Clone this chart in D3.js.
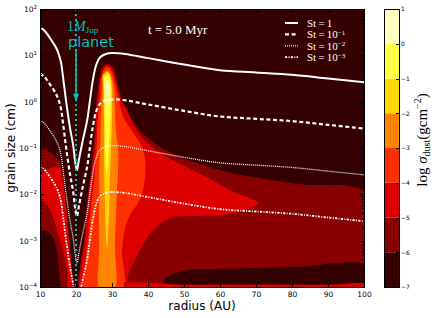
<!doctype html>
<html lang="en">
<head>
  <meta charset="utf-8">
  <title>Dust surface density, t = 5.0 Myr</title>
  <style>
body { margin: 0; background: #fff; }
.axis { font: 7.5px "DejaVu Sans", sans-serif; }
.axis path,
.axis line {
  fill: none;
  stroke: #000;
  shape-rendering: crispEdges;
}
.axis .domain { display: none; }
.frame { fill: none; stroke: #000; stroke-width: 1; shape-rendering: crispEdges; }
.serif { font-family: "Liberation Serif", "DejaVu Serif", serif; }
.st { fill: none; stroke: #fff; }
  </style>
</head>
<body>
  <script src="https://d3js.org/d3.v7.min.js"></script>
  <script>
// contour levels of log sigma_dust (g cm^-2) and the colour of each band
var levels = [-7, -6, -5, -4, -3, -2, -1, 0, 1];
var levelColors = ["#340000", "#880000", "#dc0000", "#ff3000", "#ff8400", "#ffd800", "#ffff43", "#ffffc0"];

// filled contour outlines, [radius (AU), log10 grain size (cm)]
var band7 = [[9, -4.2], [101, -4.2], [101, 2.2], [9, 2.2]];
var band6Left = [[9.6, -0.97], [12.8, -1.09], [15.0, -1.26], [15.8, -1.37], [16.7, -1.91], [17.8, -2.77],
  [18.6, -3.48], [18.9, -4.06], [16.4, -4.06], [14.7, -3.2], [12.8, -2.83], [9.6, -2.7]];
var band6Main = [[21.1, -4.06], [21.1, -3.57], [22.2, -2.99], [23.1, -2.12], [24.2, -1.48], [25.0, -0.83],
  [25.3, -0.33], [25.8, 0.14], [26.4, 0.47], [26.9, 0.66], [27.8, 0.79], [28.6, 0.83], [29.4, 0.81],
  [30.3, 0.75], [31.1, 0.58], [31.9, 0.30], [33.3, -0.07], [35.0, -0.35], [37.2, -0.57], [39.7, -0.76],
  [44.7, -1.04], [51.1, -1.26], [60, -1.48], [69.2, -1.63], [82.2, -1.78], [100.6, -1.98], [100.6, -4.06]];
var band6Hole = [[44.2, -3.91], [45.6, -3.77], [50.8, -3.64], [60, -3.61], [69.2, -3.59], [82.2, -3.56],
  [100.6, -3.53], [100.6, -3.95], [80, -3.95], [60, -3.95], [46, -3.95]];
var band5Left = [[9.6, -1.65], [11.9, -1.48], [14.2, -1.41], [15.6, -1.43], [16.1, -1.58], [16.9, -2.01],
  [17.8, -2.78], [18.6, -3.49], [18.85, -4.06], [17.8, -4.06], [17.5, -3.63], [16.1, -3.14], [12.8, -2.34], [9.6, -1.97]];
var band5Main = [[21.4, -4.06], [21.4, -3.57], [22.5, -2.99], [23.3, -2.12], [24.4, -1.48], [25.3, -0.83],
  [25.6, -0.33], [26.1, 0.14], [26.7, 0.47], [27.2, 0.64], [27.8, 0.75], [28.6, 0.79], [29.4, 0.77],
  [30.3, 0.68], [30.8, 0.53], [31.4, 0.36], [32.5, 0.04], [34.2, -0.18], [36.4, -0.55], [39.7, -0.89],
  [44.7, -1.17], [50.8, -1.41], [57.2, -1.67], [62.8, -1.91], [68.3, -2.08], [70.6, -2.19], [68.3, -2.30],
  [62.8, -2.42], [54.4, -2.47], [46.1, -2.51], [41.4, -2.77], [37.8, -3.20], [35.0, -3.63], [32.8, -4.06]];
var band5Edge = [[32, -3.95], [50, -3.95], [70, -3.95], [90, -3.95], [100.6, -3.95], [100.6, -4.1], [70, -4.1], [32, -4.1]];
var band4 = [[22.5, -4.06], [22.5, -3.57], [23.3, -2.99], [24.4, -2.12], [25.3, -1.48], [25.8, -0.83],
  [26.1, -0.33], [26.7, 0.14], [26.9, 0.47], [27.5, 0.64], [28.1, 0.73], [28.6, 0.75], [29.2, 0.73],
  [29.7, 0.68], [30.3, 0.58], [30.8, 0.40], [31.9, 0.04], [33.1, -0.33], [35.8, -0.66], [38.1, -0.94],
  [39.2, -1.26], [39.2, -1.58], [38.6, -1.91], [37.2, -2.19], [35.3, -2.40], [33.6, -2.73], [32.8, -3.20], [32.8, -4.06]];
var band3 = [[26.7, -4.06], [26.4, -3.2], [26.4, -2.12], [26.4, -1.48], [26.7, -1.04], [26.9, -0.33],
  [27.2, 0.14], [27.5, 0.47], [27.8, 0.60], [28.3, 0.66], [28.9, 0.66], [29.4, 0.62], [30.0, 0.49],
  [30.6, 0.25], [30.8, -0.18], [31.1, -0.61], [31.7, -1.04], [31.7, -1.48], [31.4, -1.91], [31.1, -2.45],
  [30.8, -3.09], [30.6, -4.06]];
var band2 = [[27.5, 0.58], [27.6, 0.25], [27.8, -0.40], [27.8, -1.04], [27.9, -1.69], [28.1, -2.34],
  [28.3, -2.88], [28.6, -3.20], [28.9, -2.88], [29.2, -2.34], [29.4, -1.69], [29.7, -1.04], [30.0, -0.40],
  [30.0, 0.25], [29.7, 0.51], [29.2, 0.62], [28.6, 0.64], [28.1, 0.62]];
var band1 = [[27.8, 0.51], [27.9, 0.04], [28.1, -0.61], [28.2, -1.15], [28.6, -1.58], [29.0, -1.15],
  [29.4, -0.61], [29.7, 0.04], [29.6, 0.42], [29.2, 0.55], [28.6, 0.58], [28.1, 0.55]];
var band0 = [[28.3, 0.42], [28.45, 0.04], [28.75, -0.29], [29.0, 0.04], [29.15, 0.36], [28.75, 0.47]];

// grain size (log10 cm) at which the Stokes number equals 1, 0.1, 0.01, 0.001
var stRadius = [10, 11.4, 12.8, 14.2, 15.0, 15.8, 16.4, 17.2, 18.3, 19.2, 19.7, 20.25, 20.8, 21.9, 23.1,
  23.9, 24.7, 25.6, 26.7, 28.3, 30.0, 33.6, 40, 50, 60, 70, 80, 90, 100];
var st1 = [1.61, 1.52, 1.37, 1.20, 1.07, 0.86, 0.53, 0.04, -0.55, -0.94, -1.26, -1.48, -1.26, -0.83, -0.40,
  0.04, 0.47, 0.79, 0.96, 1.03, 1.05, 1.03, 0.94, 0.80, 0.68, 0.63, 0.58, 0.50, 0.42];
var st1e1 = [0.61, 0.52, 0.37, 0.20, 0.07, -0.14, -0.47, -0.96, -1.55, -1.94, -2.26, -2.48, -2.26, -1.83, -1.40,
  -0.96, -0.53, -0.21, -0.04, 0.03, 0.05, 0.03, -0.06, -0.20, -0.32, -0.37, -0.42, -0.50, -0.58];
var st1e2 = [-0.39, -0.48, -0.63, -0.80, -0.93, -1.14, -1.47, -1.96, -2.55, -2.94, -3.26, -3.48, -3.26, -2.83, -2.40,
  -1.96, -1.53, -1.21, -1.04, -0.97, -0.95, -0.97, -1.06, -1.20, -1.32, -1.37, -1.42, -1.50, -1.58];
var st1e3 = [-1.39, -1.48, -1.63, -1.80, -1.93, -2.14, -2.47, -2.96, -3.55, -3.94, -4.26, -4.48, -4.26, -3.83, -3.40,
  -2.96, -2.53, -2.21, -2.04, -1.97, -1.95, -1.97, -2.06, -2.20, -2.32, -2.37, -2.42, -2.50, -2.58];

var planetRadius = 20;
var xTicks = [10, 20, 30, 40, 50, 60, 70, 80, 90, 100];
var yTicks = [1e-4, 1e-3, 1e-2, 1e-1, 1, 10, 100];

var svg = d3.select("body").append("svg")
    .attr("width", 436)
    .attr("height", 318);

// plot box 40..364 x 9..287
var x = d3.scaleLinear().domain([10, 100]).range([40, 364]);
var y = d3.scaleLog().domain([1e-4, 1e2]).range([287, 9]);
function yl(v) { return y(Math.pow(10, v)); }

svg.append("defs").append("clipPath").attr("id", "plot-clip")
  .append("rect")
    .attr("x", x(10)).attr("y", y(100))
    .attr("width", x(100) - x(10)).attr("height", y(1e-4) - y(100));

var plot = svg.append("g").attr("clip-path", "url(#plot-clip)");

var color = d3.scaleOrdinal().domain(levels.slice(0, -1)).range(levelColors);

var outline = d3.line()
    .x(function(d) { return x(d[0]); })
    .y(function(d) { return yl(d[1]); })
    .curve(d3.curveCatmullRomClosed.alpha(0.5));

var bands = [
  {level: -7, rings: [band7]},
  {level: -6, rings: [band6Left, band6Main, band6Hole]},
  {level: -5, rings: [band5Left, band5Main, band5Edge]},
  {level: -4, rings: [band4]},
  {level: -3, rings: [band3]},
  {level: -2, rings: [band2]},
  {level: -1, rings: [band1]},
  {level: 0, rings: [band0]}
];

plot.selectAll(".band")
    .data(bands)
  .enter().append("path")
    .attr("class", "band")
    .attr("fill-rule", "evenodd")
    .attr("fill", function(d) { return color(d.level); })
    .attr("d", function(d) { return d.rings.map(outline).join(""); });

// Stokes number curves
var stLine = d3.line()
    .x(function(d) { return x(d[0]); })
    .y(function(d) { return yl(d[1]); })
    .curve(d3.curveCatmullRom.alpha(0.5));

var stSeries = [
  {label: "1", values: st1, width: 2, dash: null, stroke: "#fff"},
  {label: "-1", values: st1e1, width: 2.2, dash: "4,2.6", stroke: "#fff"},
  {label: "-2", values: st1e2, width: 1.3, dash: "1,1", stroke: "#e6e6e6"},
  {label: "-3", values: st1e3, width: 1.8, dash: "2.2,1.3,1,1.3", stroke: "#fff"}
];

plot.selectAll(".st")
    .data(stSeries)
  .enter().append("path")
    .attr("class", "st")
    .attr("stroke", function(d) { return d.stroke; })
    .attr("stroke-width", function(d) { return d.width; })
    .attr("stroke-dasharray", function(d) { return d.dash; })
    .attr("d", function(d) { return stLine(stRadius.map(function(r, i) { return [r, d.values[i]]; })); });

// planet position
var cyan = "#00bfbf";
var px = x(planetRadius);
plot.append("line")
    .attr("x1", px).attr("x2", px)
    .attr("y1", y(100)).attr("y2", y(1e-4))
    .attr("stroke", cyan)
    .attr("stroke-width", 2)
    .attr("stroke-dasharray", "2,3");

var arrowTop = yl(1.1), arrowTip = yl(0.0);
svg.append("line")
    .attr("x1", px).attr("x2", px)
    .attr("y1", arrowTop).attr("y2", arrowTip - 6)
    .attr("stroke", cyan)
    .attr("stroke-width", 1.6);
svg.append("path")
    .attr("d", "M" + px + "," + arrowTip + "L" + (px - 3) + "," + (arrowTip - 8) + "L" + (px + 3) + "," + (arrowTip - 8) + "Z")
    .attr("fill", cyan);

var mj = svg.append("text")
    .attr("class", "serif")
    .attr("x", px - 9).attr("y", 30.5)
    .attr("fill", cyan)
    .attr("font-size", "14px");
mj.append("tspan").text("1");
mj.append("tspan").attr("font-style", "italic").text("M");
mj.append("tspan").attr("dy", 2).attr("font-size", "9px").text("Jup");

svg.append("text")
    .attr("x", px - 8).attr("y", 46.5)
    .attr("fill", cyan)
    .style("font", "14.5px 'DejaVu Sans', sans-serif")
    .text("planet");

svg.append("text")
    .attr("class", "serif")
    .attr("x", x(40)).attr("y", 34)
    .attr("fill", "#fff")
    .attr("font-size", "13px")
    .text("t = 5.0 Myr");

// legend
var legend = svg.append("g").attr("transform", "translate(285,23)");
var row = legend.selectAll(".row")
    .data(stSeries)
  .enter().append("g")
    .attr("class", "row")
    .attr("transform", function(d, i) { return "translate(0," + (i * 11.4) + ")"; });
row.append("line")
    .attr("x1", 0).attr("x2", 13)
    .attr("stroke", function(d) { return d.stroke; })
    .attr("stroke-width", function(d) { return d.width; })
    .attr("stroke-dasharray", function(d) { return d.dash; });
row.append("text")
    .attr("class", "serif")
    .attr("x", 22).attr("y", 4)
    .attr("fill", "#fff")
    .attr("font-size", "11px")
    .each(function(d) {
      var t = d3.select(this);
      if (d.label === "1") {
        t.text("St\u2009=\u20091");
      } else {
        t.append("tspan").text("St\u2009=\u200910");
        t.append("tspan").attr("dy", -3.5).attr("font-size", "7px").text("\u2212" + d.label.slice(1));
      }
    });

// axes, ticks pointing inward on all four sides
var minor = y.ticks().filter(function(v) { return yTicks.indexOf(v) < 0; });

svg.append("g")
    .attr("class", "x axis")
    .attr("transform", "translate(0," + y(1e-4) + ")")
    .call(d3.axisBottom(x).tickValues(xTicks).tickSize(-4).tickPadding(4.5));
svg.append("g")
    .attr("class", "x axis")
    .attr("transform", "translate(0," + y(100) + ")")
    .call(d3.axisTop(x).tickValues(xTicks).tickSize(-4).tickFormat(""));

var yAxis = svg.append("g")
    .attr("class", "y axis")
    .attr("transform", "translate(" + x(10) + ",0)")
    .call(d3.axisLeft(y).tickValues(yTicks).tickSize(-4).tickPadding(3));
yAxis.selectAll(".tick text").text(null).each(function(d) {
  var t = d3.select(this);
  t.append("tspan").text("10");
  t.append("tspan").attr("dy", -3).attr("font-size", "5.5px")
    .text(String(Math.round(Math.log10(d))).replace("-", "\u2212"));
});
svg.append("g")
    .attr("class", "y axis")
    .attr("transform", "translate(" + x(10) + ",0)")
    .call(d3.axisLeft(y).tickValues(minor).tickSize(-2).tickFormat(""));
svg.append("g")
    .attr("class", "y axis")
    .attr("transform", "translate(" + x(100) + ",0)")
    .call(d3.axisRight(y).tickValues(yTicks).tickSize(-4).tickFormat(""));
svg.append("g")
    .attr("class", "y axis")
    .attr("transform", "translate(" + x(100) + ",0)")
    .call(d3.axisRight(y).tickValues(minor).tickSize(-2).tickFormat(""));

svg.append("rect")
    .attr("class", "frame")
    .attr("x", x(10)).attr("y", y(100))
    .attr("width", x(100) - x(10)).attr("height", y(1e-4) - y(100));

svg.append("text")
    .attr("x", (x(10) + x(100)) / 2).attr("y", 310)
    .attr("text-anchor", "middle")
    .style("font", "12px 'DejaVu Sans', sans-serif")
    .text("radius (AU)");
svg.append("text")
    .attr("transform", "translate(15," + (y(1e-4) + y(100)) / 2 + ") rotate(-90)")
    .attr("text-anchor", "middle")
    .style("font", "12px 'DejaVu Sans', sans-serif")
    .text("grain size (cm)");

// colour bar
var cb = d3.scaleLinear().domain([-7, 1]).range([287, 9]);
svg.selectAll(".cbar")
    .data(levels.slice(0, -1))
  .enter().append("rect")
    .attr("class", "cbar")
    .attr("x", 384).attr("width", 15)
    .attr("y", function(d) { return cb(d + 1); })
    .attr("height", function(d) { return cb(d) - cb(d + 1); })
    .attr("fill", function(d) { return color(d); });
svg.append("rect")
    .attr("class", "frame")
    .attr("x", 384).attr("y", cb(1))
    .attr("width", 15).attr("height", cb(-7) - cb(1));
svg.append("g")
    .attr("class", "axis")
    .style("font-size", "6px")
    .attr("transform", "translate(399,0)")
    .call(d3.axisRight(cb).tickValues(levels).tickSize(-3).tickPadding(2)
      .tickFormat(function(d) { return String(d).replace("-", "\u2212"); }));

var cbLabel = svg.append("text")
    .attr("class", "serif")
    .attr("transform", "translate(427,140) rotate(-90)")
    .attr("text-anchor", "middle")
    .attr("font-size", "15px");
cbLabel.append("tspan").text("log ");
cbLabel.append("tspan").attr("font-style", "italic").text("\u03c3");
cbLabel.append("tspan").attr("dy", 3).attr("font-size", "10px").text("dust");
cbLabel.append("tspan").attr("dy", -3).text("(gcm");
cbLabel.append("tspan").attr("dy", -6).attr("font-size", "10px").text("\u22122");
cbLabel.append("tspan").attr("dy", 6).text(")");
  </script>
</body>
</html>
